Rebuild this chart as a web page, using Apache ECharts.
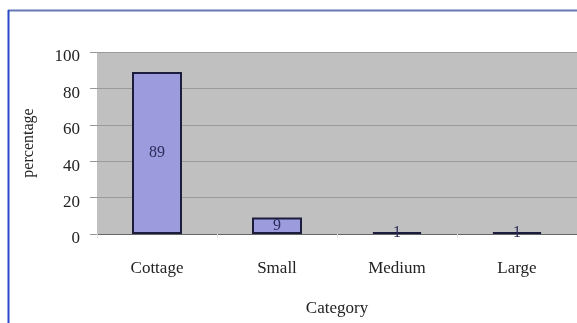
<!DOCTYPE html>
<html><head><meta charset="utf-8">
<script src="https://cdn.jsdelivr.net/npm/echarts@6/dist/echarts.min.js"></script>
<style>html,body{margin:0;padding:0;background:#fff}#c{width:577px;height:323px}</style>
</head><body><div id="c"></div>
<script>
var categories = ['Cottage', 'Small', 'Medium', 'Large'];
var percentages = [89, 9, 1, 1];
var yTicks = [0, 20, 40, 60, 80, 100];

var chart = echarts.init(document.getElementById('c'), null, {renderer: 'canvas'});
var font = 'Liberation Serif';
chart.setOption({
  animation: false,
  backgroundColor: '#fff',
  graphic: [
    {type: 'line', shape: {x1: 8, y1: 10.5, x2: 577, y2: 10.5}, style: {stroke: '#6479b6', lineWidth: 2}, z: 100},
    {type: 'line', shape: {x1: 8.5, y1: 10, x2: 8.5, y2: 323}, style: {stroke: '#2a48c8', lineWidth: 2}, z: 100}
  ],
  grid: {left: 97, right: -2, top: 52, bottom: 89, show: true, backgroundColor: '#c0c0c0', borderWidth: 0},
  xAxis: {
    type: 'category', data: categories,
    name: 'Category', nameLocation: 'middle', nameGap: 66,
    nameTextStyle: {fontFamily: font, fontSize: 17, color: '#222'},
    axisLine: {lineStyle: {color: '#666', width: 1}},
    axisTick: {show: true, length: 4, lineStyle: {color: '#ddd'}},
    axisLabel: {fontFamily: font, fontSize: 17, color: '#222', margin: 26}
  },
  yAxis: {
    type: 'value', min: yTicks[0], max: yTicks[yTicks.length - 1], interval: 20,
    name: 'percentage', nameLocation: 'middle', nameGap: 60, nameRotate: 90,
    nameTextStyle: {fontFamily: font, fontSize: 16, color: '#222'},
    axisLine: {show: false},
    axisTick: {show: true, length: 7, lineStyle: {color: '#999'}},
    axisLabel: {fontFamily: font, fontSize: 17, color: '#222', margin: 17, verticalAlign: 'top', lineHeight: 10},
    splitLine: {lineStyle: {color: '#9a9a9a', width: 1}}
  },
  series: [{
    type: 'bar', data: percentages, barWidth: 50,
    itemStyle: {color: '#9b9bdd', borderColor: '#1c1c3c', borderWidth: 2},
    label: {show: true, position: 'inside', fontFamily: font, fontSize: 16, color: '#2c2c5c'}
  }]
});
</script></body></html>
